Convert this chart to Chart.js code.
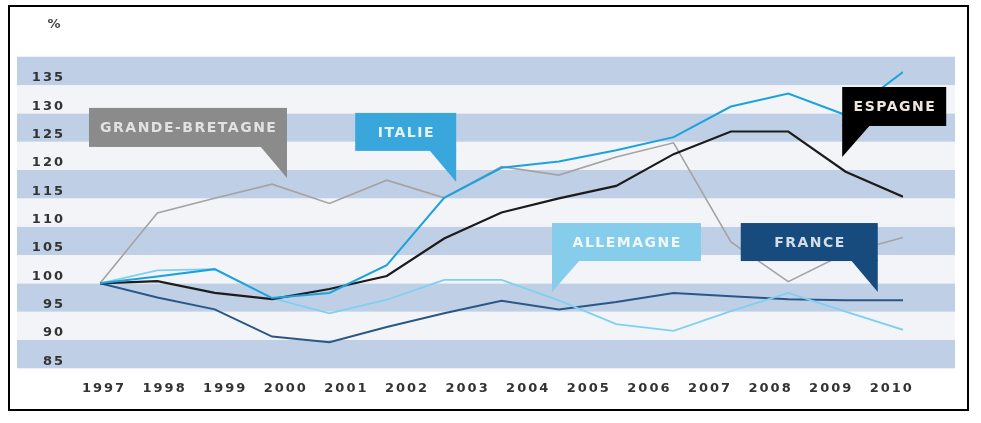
<!DOCTYPE html>
<html>
<head>
    <title>Evolution 1997-2010</title>
    <script src="https://cdn.jsdelivr.net/npm/chart.js"></script>
    <style>
        body { margin: 0; background-color: #fff; }
        canvas { position: absolute; left: 0; top: 0; }
        #frame { position: absolute; left: 8px; top: 5px; width: 961px; height: 406px; border: 2px solid #000; box-sizing: border-box; pointer-events: none; }
    </style>
</head>
<body>
    <canvas id="chart" width="981" height="423"></canvas>
    <div id="frame"></div>

    <script>
        // points de la série (15 relevés) et étiquettes de l'axe des années
        const steps = [0, 1, 2, 3, 4, 5, 6, 7, 8, 9, 10, 11, 12, 13, 14];
        const years = [1997, 1998, 1999, 2000, 2001, 2002, 2003, 2004, 2005, 2006, 2007, 2008, 2009, 2010];
        const yTicks = [85, 90, 95, 100, 105, 110, 115, 120, 125, 130, 135];

        const italie    = [100, 101.2, 102.5, 97.4, 98.3, 103.2, 115.1, 120.4, 121.5, 123.5, 125.8, 131.2, 133.5, 129.7, 137.3];
        const espagne   = [100, 100.4, 98.3, 97.2, 99.0, 101.3, 107.9, 112.5, 115.0, 117.2, 122.8, 126.8, 126.8, 119.7, 115.3];
        const allemagne = [100, 102.3, 102.5, 97.4, 94.7, 97.1, 100.6, 100.6, 97.0, 92.8, 91.6, 95.1, 98.3, 95.0, 91.8];
        const france    = [100, 97.5, 95.4, 90.6, 89.6, 92.3, 94.7, 96.9, 95.4, 96.7, 98.3, 97.7, 97.2, 97.0, 97.0];
        const gb        = [100, 112.4, 115.0, 117.5, 114.1, 118.2, 115.1, 120.6, 119.1, 122.3, 124.8, 107.3, 100.3, 105.3, 108.1];

        // bulles de légende : pointe en coordonnées de données
        const callouts = [
            { text: 'GRANDE-BRETAGNE', bg: '#8b8b8b', fg: '#e2e2e2', tip: [3.26, 118.6], w: 198, h: 39, tail: 'right' },
            { text: 'ITALIE', bg: '#3aa7dc', fg: '#e6f2fa', tip: [6.21, 117.9], w: 101, h: 38, tail: 'right' },
            { text: 'ESPAGNE', bg: '#000000', fg: '#eee6de', tip: [12.94, 122.3], w: 104, h: 39, tail: 'left' },
            { text: 'ALLEMAGNE', bg: '#86cdec', fg: '#eef8fd', tip: [7.88, 98.46], w: 149, h: 38, tail: 'left' },
            { text: 'FRANCE', bg: '#174b7d', fg: '#d3dde8', tip: [13.56, 98.46], w: 137, h: 38, tail: 'right' }
        ];

        const toPoints = arr => steps.map((s, i) => ({ x: s, y: arr[i] }));

        const bands = {
            id: 'bands',
            beforeDraw(chart) {
                const ctx = chart.ctx;
                const y = chart.scales.y;
                const left = y.left;
                const right = chart.chartArea.right + 52;
                ctx.save();
                let i = 0;
                for (let v = y.min; v < y.max; v += 5, i++) {
                    const top = y.getPixelForValue(v + 5);
                    const bottom = y.getPixelForValue(v);
                    ctx.fillStyle = i % 2 === 0 ? '#bfcfe5' : '#f3f4f7';
                    ctx.fillRect(left, top, right - left, bottom - top);
                }
                ctx.restore();
                ctx.letterSpacing = '2px';

                ctx.save();
                ctx.font = 'bold 13px "DejaVu Sans"';
                ctx.fillStyle = '#444';
                ctx.textAlign = 'center';
                ctx.textBaseline = 'middle';
                ctx.letterSpacing = '0px';
                ctx.fillText('%', 54, 25);
                ctx.restore();
            }
        };

        const bubbles = {
            id: 'bubbles',
            afterDatasetsDraw(chart) {
                const ctx = chart.ctx;
                const xs = chart.scales.x, ys = chart.scales.y;
                ctx.save();
                callouts.forEach(c => {
                    const px = xs.getPixelForValue(c.tip[0]);
                    const py = ys.getPixelForValue(c.tip[1]);
                    const bottom = py - 31;
                    const top = bottom - c.h;
                    const left = c.tail === 'right' ? px - c.w : px;
                    ctx.fillStyle = c.bg;
                    ctx.fillRect(left, top, c.w, c.h);
                    ctx.beginPath();
                    if (c.tail === 'right') {
                        ctx.moveTo(px - 27, bottom - 1);
                        ctx.lineTo(px, bottom - 1);
                        ctx.lineTo(px, py);
                    } else {
                        ctx.moveTo(px, bottom - 1);
                        ctx.lineTo(px + 28, bottom - 1);
                        ctx.lineTo(px, py);
                    }
                    ctx.closePath();
                    ctx.fill();
                    ctx.font = 'bold 14px "DejaVu Sans"';
                    ctx.letterSpacing = '1.5px';
                    ctx.fillStyle = c.fg;
                    ctx.textAlign = 'center';
                    ctx.textBaseline = 'middle';
                    ctx.fillText(c.text, left + c.w / 2 + 0.75, top + c.h / 2 + 1);
                });
                ctx.restore();
            }
        };

        Chart.defaults.font.family = '"DejaVu Sans", sans-serif';

        const line = (label, data, color, width) => ({
            label: label,
            data: toPoints(data),
            borderColor: color,
            borderWidth: width,
            pointRadius: 0,
            tension: 0,
            fill: false
        });

        new Chart(document.getElementById('chart'), {
            type: 'line',
            data: {
                datasets: [
                    line('Italie', italie, '#1ca2dd', 2),
                    line('Espagne', espagne, '#1c1c1c', 2.2),
                    line('Allemagne', allemagne, '#7fd0f0', 1.8),
                    line('France', france, '#2b5787', 2),
                    line('Grande-Bretagne', gb, '#a3a3a3', 1.6)
                ]
            },
            options: {
                responsive: false,
                animation: false,
                layout: { padding: { left: 17, right: 78, top: 56.7, bottom: 14.7 } },
                plugins: {
                    legend: { display: false },
                    tooltip: { enabled: false }
                },
                scales: {
                    x: { type: 'linear', min: 0, max: 14, display: false },
                    years: {
                        type: 'linear',
                        position: 'bottom',
                        min: 1996.934,
                        max: 2010.185,
                        afterBuildTicks: s => { s.ticks = years.map(v => ({ value: v })); },
                        afterFit: s => { s.height = 40; },
                        grid: { display: false, drawTicks: false },
                        border: { display: false },
                        ticks: {
                            autoSkip: false,
                            maxRotation: 0,
                            padding: 13,
                            color: '#333',
                            font: { size: 13, weight: 'bold' },
                            callback: v => String(v)
                        }
                    },
                    y: {
                        min: 85,
                        max: 140,
                        afterBuildTicks: s => { s.ticks = yTicks.concat([140]).map(v => ({ value: v })); },
                        afterFit: s => { s.width = 83; },
                        grid: { display: false, drawTicks: false },
                        border: { display: false },
                        ticks: {
                            padding: 35,
                            labelOffset: -7,
                            color: '#333',
                            font: { size: 13, weight: 'bold' },
                            callback: v => yTicks.includes(v) ? String(v) : ''
                        }
                    }
                }
            },
            plugins: [bands, bubbles]
        });
    </script>
</body>
</html>
